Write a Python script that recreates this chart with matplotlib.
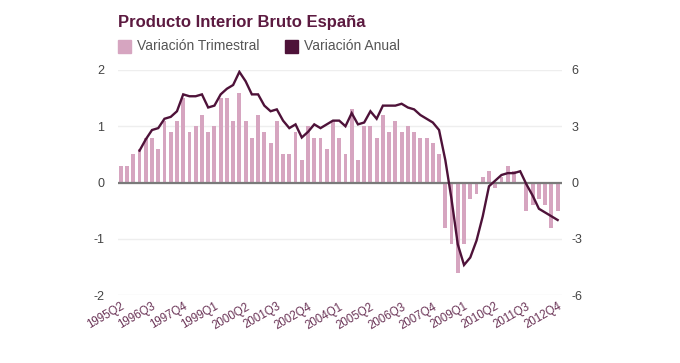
import matplotlib
matplotlib.use("Agg")
import matplotlib.pyplot as plt
from matplotlib.patches import Rectangle
import numpy as np

plt.rcParams['font.family'] = ['Liberation Sans', 'DejaVu Sans']

# Quarters 1995Q2 .. 2012Q4
quarters = [f"{y}Q{q}" for y in range(1995, 2013) for q in range(1, 5)][1:]

trimestral = [0.3, 0.3, 0.5, 0.6, 0.8, 0.8, 0.6, 1.1, 0.9, 1.1,
              1.5, 0.9, 1.0, 1.2, 0.9, 1.0, 1.5, 1.5, 1.1, 1.6,
              1.1, 0.8, 1.2, 0.9, 0.7, 1.1, 0.5, 0.5, 0.9, 0.4,
              1.0, 0.8, 0.8, 0.6, 1.1, 0.8, 0.5, 1.3, 0.4, 1.0,
              1.0, 0.8, 1.2, 0.9, 1.1, 0.9, 1.0, 0.9, 0.8, 0.8,
              0.7, 0.5,
              -0.8, -1.1, -1.6, -1.1, -0.3, -0.2, 0.1, 0.2, -0.1, 0.1,
              0.3, 0.2, 0.0, -0.5, -0.4, -0.3, -0.4, -0.8, -0.5]

anual = [None, None, None, 1.7, 2.3, 2.8, 2.9, 3.4, 3.5, 3.8,
         4.7, 4.6, 4.6, 4.7, 4.0, 4.1, 4.7, 5.0, 5.2, 5.9,
         5.4, 4.7, 4.7, 4.1, 3.8, 3.9, 3.3, 2.9, 3.1, 2.4,
         2.7, 3.1, 2.9, 3.1, 3.3, 3.3, 3.0, 3.7, 3.1, 3.2,
         3.8, 3.4, 4.1, 4.1, 4.1, 4.2, 4.0, 3.9, 3.6, 3.4,
         3.2, 2.8, 1.2, -0.9, -3.3, -4.4, -4.0, -3.1, -1.8, -0.2,
         0.1, 0.4, 0.5, 0.5, 0.6, -0.1, -0.7, -1.4, -1.6, -1.8, -2.0]

tick_labels = ["1995Q2", "1996Q3", "1997Q4", "1999Q1", "2000Q2", "2001Q3",
               "2002Q4", "2004Q1", "2005Q2", "2006Q3", "2007Q4", "2009Q1",
               "2010Q2", "2011Q3", "2012Q4"]
left_ticks = [-2, -1, 0, 1, 2]
right_ticks = [-6, -3, 0, 3, 6]

bar_color = "#d6a5c0"
line_color = "#4e1239"
title_color = "#5c1a40"
text_color = "#555555"

fig = plt.figure(figsize=(6.8, 3.63), dpi=100)
ax = fig.add_axes([118/680, 1-295/363, (562-118)/680, (295-70)/363])
ax2 = ax.twinx()

x = np.arange(len(quarters))
ax.bar(x, trimestral, width=0.62, color=bar_color, zorder=2)
ax.set_ylim(-2, 2)
ax.set_xlim(-0.45, 70.7)
ax.set_yticks(left_ticks)
ax.set_yticklabels([str(t) for t in left_ticks])
ax.yaxis.grid(True, color="#eeeeee", linewidth=1, zorder=0)
ax.set_axisbelow(True)
ax.axhline(0, color="#7a7a7a", linewidth=1.6, zorder=3)

anual_y = np.array([np.nan if v is None else v for v in anual], dtype=float)
ax2.plot(x, anual_y, color=line_color, linewidth=1.7, zorder=4,
         solid_joinstyle='miter')
ax2.set_ylim(-6, 6)
ax2.set_yticks(right_ticks)
ax2.set_yticklabels([str(t) for t in right_ticks])

tick_pos = [quarters.index(t) for t in tick_labels]
ax.set_xticks(tick_pos)
ax.set_xticklabels(tick_labels, rotation=30, ha='right',
                   rotation_mode='anchor', color="#6a3356", fontsize=8.3)

for a in (ax, ax2):
    for s in a.spines.values():
        s.set_visible(False)
    a.tick_params(length=0)
ax.tick_params(axis='y', labelsize=9, colors="#444444", pad=10)
ax2.tick_params(axis='y', labelsize=9, colors="#444444", pad=7)
ax.tick_params(axis='x', pad=4)

# Title and legend
fig.text(118/680, 1-22/363, "Producto Interior Bruto España", fontsize=12,
         fontweight='bold', color=title_color, va='center', ha='left')
fig.patches.append(Rectangle((118/680, 1-53/363), 13/680, 13/363,
                             transform=fig.transFigure, color=bar_color))
fig.text(137/680, 1-46.5/363, "Variación Trimestral", fontsize=10,
         color=text_color, va='center', ha='left')
fig.patches.append(Rectangle((285/680, 1-53/363), 13/680, 13/363,
                             transform=fig.transFigure, color=line_color))
fig.text(304/680, 1-46.5/363, "Variación Anual", fontsize=10,
         color=text_color, va='center', ha='left')

fig.savefig("out.png", dpi=100)
